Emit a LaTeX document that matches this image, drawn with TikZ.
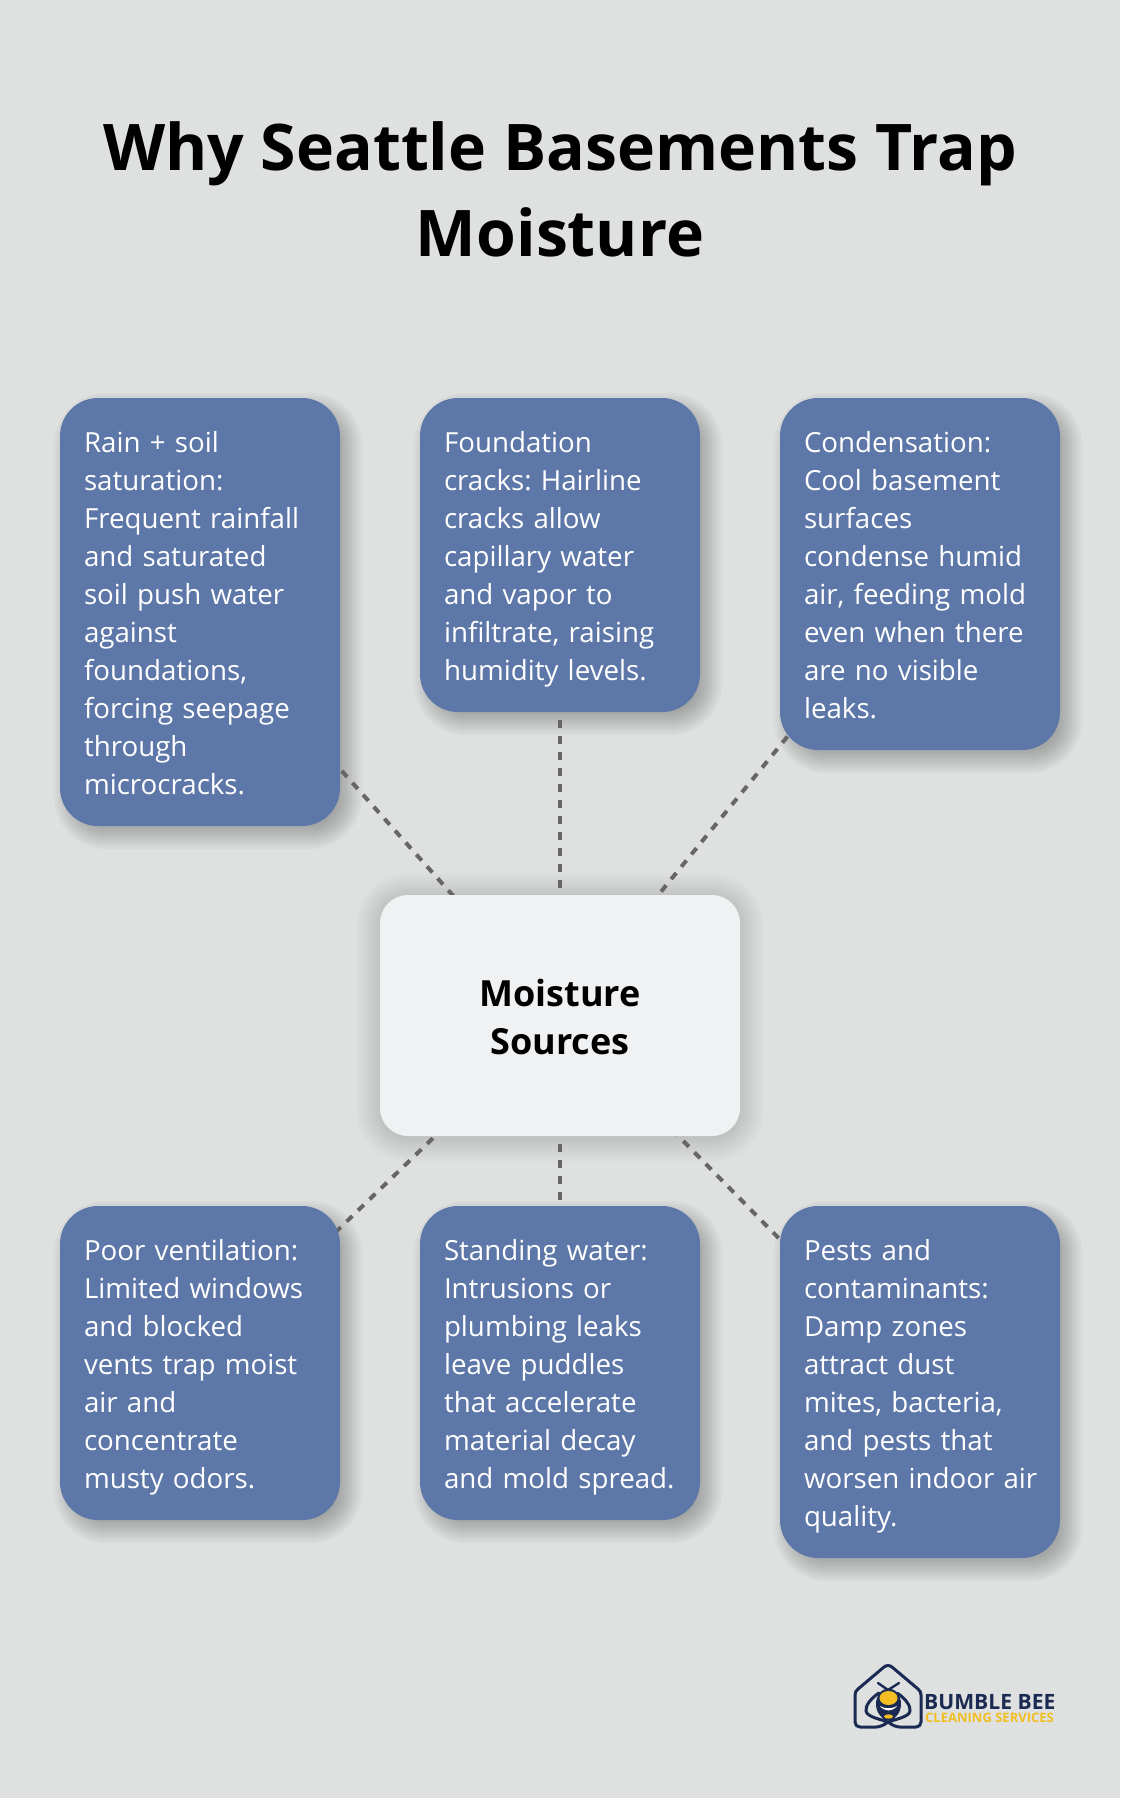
\documentclass[tikz,border=0pt]{standalone}
\usepackage{fontspec}
\setmainfont{Open Sans}
\pgfdeclarelayer{shadowlayer}
\pgfdeclarelayer{edgelayer}
\pgfsetlayers{shadowlayer,edgelayer,main}
\definecolor{pagebg}{HTML}{DEE1DF}
\definecolor{cardblue}{HTML}{5D77A8}
\definecolor{hubfill}{HTML}{EFF1F3}
\definecolor{dashgrey}{HTML}{666666}
\definecolor{beenavy}{HTML}{1B2A52}
\definecolor{beeyellow}{HTML}{F2BE22}
\newcommand{\ls}{\rule[-8pt]{0pt}{38pt}}
\tikzset{
  card/.style={rectangle,fill=cardblue,text=white,rounded corners=38pt,minimum width=280pt,inner sep=0pt,
    text width=232pt,align=left,font=\fontsize{27.7}{38}\selectfont\frenchspacing},
  hub/.style={rectangle,fill=hubfill,text=black,rounded corners=28pt,minimum width=360pt,minimum height=241pt,
    inner sep=0pt,align=center,font=\fontsize{36}{48}\selectfont\bfseries},
  titletext/.style={inner sep=0pt,align=center,text=black,font=\fontsize{64.3}{86}\selectfont\bfseries},
  link/.style={draw=dashgrey,line width=4pt,dash pattern=on 8pt off 8pt},
  beeline/.style={draw=beenavy,line width=3pt,line cap=round,line join=round},
}
\newcommand{\dropfor}[6]{% node, dx, dy, radius, number of layers minus one, opacity
  \begin{pgfonlayer}{shadowlayer}
  \foreach \k in {0,...,#5}{
    \pgfmathsetmacro{\e}{2.5*\k-1.25*#5}
    \pgfmathsetmacro{\rr}{max(#4+\e,1)}
    \fill[black,fill opacity=#6,rounded corners=\rr pt]
      ([shift={({#2-\e},{#3+\e})}]#1.south west) rectangle ([shift={({#2+\e},{#3-\e})}]#1.north east);
  }
  \end{pgfonlayer}}
\begin{document}
\begin{tikzpicture}[x=1pt,y=-1pt]
\useasboundingbox (0,0) rectangle (1120,1798);
\begin{pgfonlayer}{shadowlayer}
\fill[pagebg] (0,0) rectangle (1120,1798);
\end{pgfonlayer}
\node[titletext] (title) at (560,189) {Why Seattle Basements Trap\\Moisture};
\node[card,minimum height=428pt] (b1) at (200,612) {\ls Rain + soil\\saturation:\\Frequent rainfall\\and saturated\\soil push water\\against\\foundations,\\forcing seepage\\through\\microcracks.\ls};
\node[card,minimum height=314pt] (b2) at (560,555) {\ls Foundation\\cracks: Hairline\\cracks allow\\capillary water\\and vapor to\\infiltrate, raising\\humidity levels.\ls};
\node[card,minimum height=352pt] (b3) at (920,574) {\ls Condensation:\\Cool basement\\surfaces\\condense humid\\air, feeding mold\\even when there\\are no visible\\leaks.\ls};
\node[card,minimum height=314pt] (b4) at (200,1363) {\ls Poor ventilation:\\Limited windows\\and blocked\\vents trap moist\\air and\\concentrate\\musty odors.\ls};
\node[card,minimum height=314pt] (b5) at (560,1363) {\ls Standing water:\\Intrusions or\\plumbing leaks\\leave puddles\\that accelerate\\material decay\\\mbox{and mold spread.}\ls};
\node[card,minimum height=352pt] (b6) at (920,1382) {\ls Pests and\\contaminants:\\Damp zones\\attract dust\\mites, bacteria,\\and pests that\\\mbox{worsen indoor air}\\quality.\ls};
\node[hub] (hub) at (560,1015.5) {\rule{0pt}{29.4pt}Moisture\\Sources};
\foreach \n in {b1,b2,b3,b4,b5,b6}{\dropfor{\n}{8}{9}{38}{11}{0.026}}
\dropfor{hub}{0}{2}{28}{19}{0.011}
\begin{pgfonlayer}{edgelayer}
\draw[link,dash phase=11pt] (b1.center) -- (hub.center);
\draw[link,dash phase=11pt] (b2.center) -- (hub.center);
\draw[link,dash phase=14.3pt] (b3.center) -- (hub.center);
\draw[link,dash phase=4.3pt] (b4.center) -- (hub.center);
\draw[link,dash phase=15.5pt] (hub.center) -- (b5.center);
\draw[link,dash phase=6.2pt] (b6.center) -- (hub.center);
\end{pgfonlayer}
% logo: house outline crossing into the wings
\draw[beeline] (879,1693) .. controls (871,1698) and (865,1706) .. (866,1711)
  .. controls (867,1717) and (880,1719) .. (888,1722) .. controls (892,1725) and (896,1727) .. (900,1727)
  -- (916,1727) .. controls (919,1727) and (921,1725) .. (921,1722) -- (921,1695)
  .. controls (921,1692) and (920,1691) .. (918,1689) -- (892,1667) .. controls (889,1665) and (887,1665) .. (884,1667)
  -- (858,1689) .. controls (856,1691) and (855,1692) .. (855,1695) -- (855,1722)
  .. controls (855,1725) and (857,1727) .. (860,1727) -- (876,1727)
  .. controls (880,1727) and (884,1725) .. (888,1722) .. controls (896,1719) and (909,1717) .. (910,1711)
  .. controls (911,1706) and (905,1698) .. (897,1693);
\draw[beeline,line width=2.4pt] (878,1683) -- (888,1690) -- (899,1683);
\fill[beenavy] (888.5,1704) ellipse [x radius=12.5,y radius=15.5];
\fill[beeyellow] (888.5,1698) ellipse [x radius=9,y radius=7];
\fill[white] (880,1706) .. controls (885,1709) and (892,1709) .. (897,1706) .. controls (892,1712) and (885,1712) .. (880,1706);
\fill[beenavy] (888.5,1716) ellipse [x radius=7,y radius=4.5];
\fill[beeyellow] (888.5,1716.5) ellipse [x radius=4.5,y radius=2.2];
\node[inner sep=0pt,anchor=west,text=beenavy,font=\fontsize{21.1}{21}\selectfont\bfseries] (brand) at (924,1702) {BUMBLE BEE};
\node[inner sep=0pt,anchor=west,text=beeyellow,font=\fontsize{13}{13}\selectfont\bfseries] (tag) at (925,1717.5) {CLEANING SERVICES};
\end{tikzpicture}
\end{document}
